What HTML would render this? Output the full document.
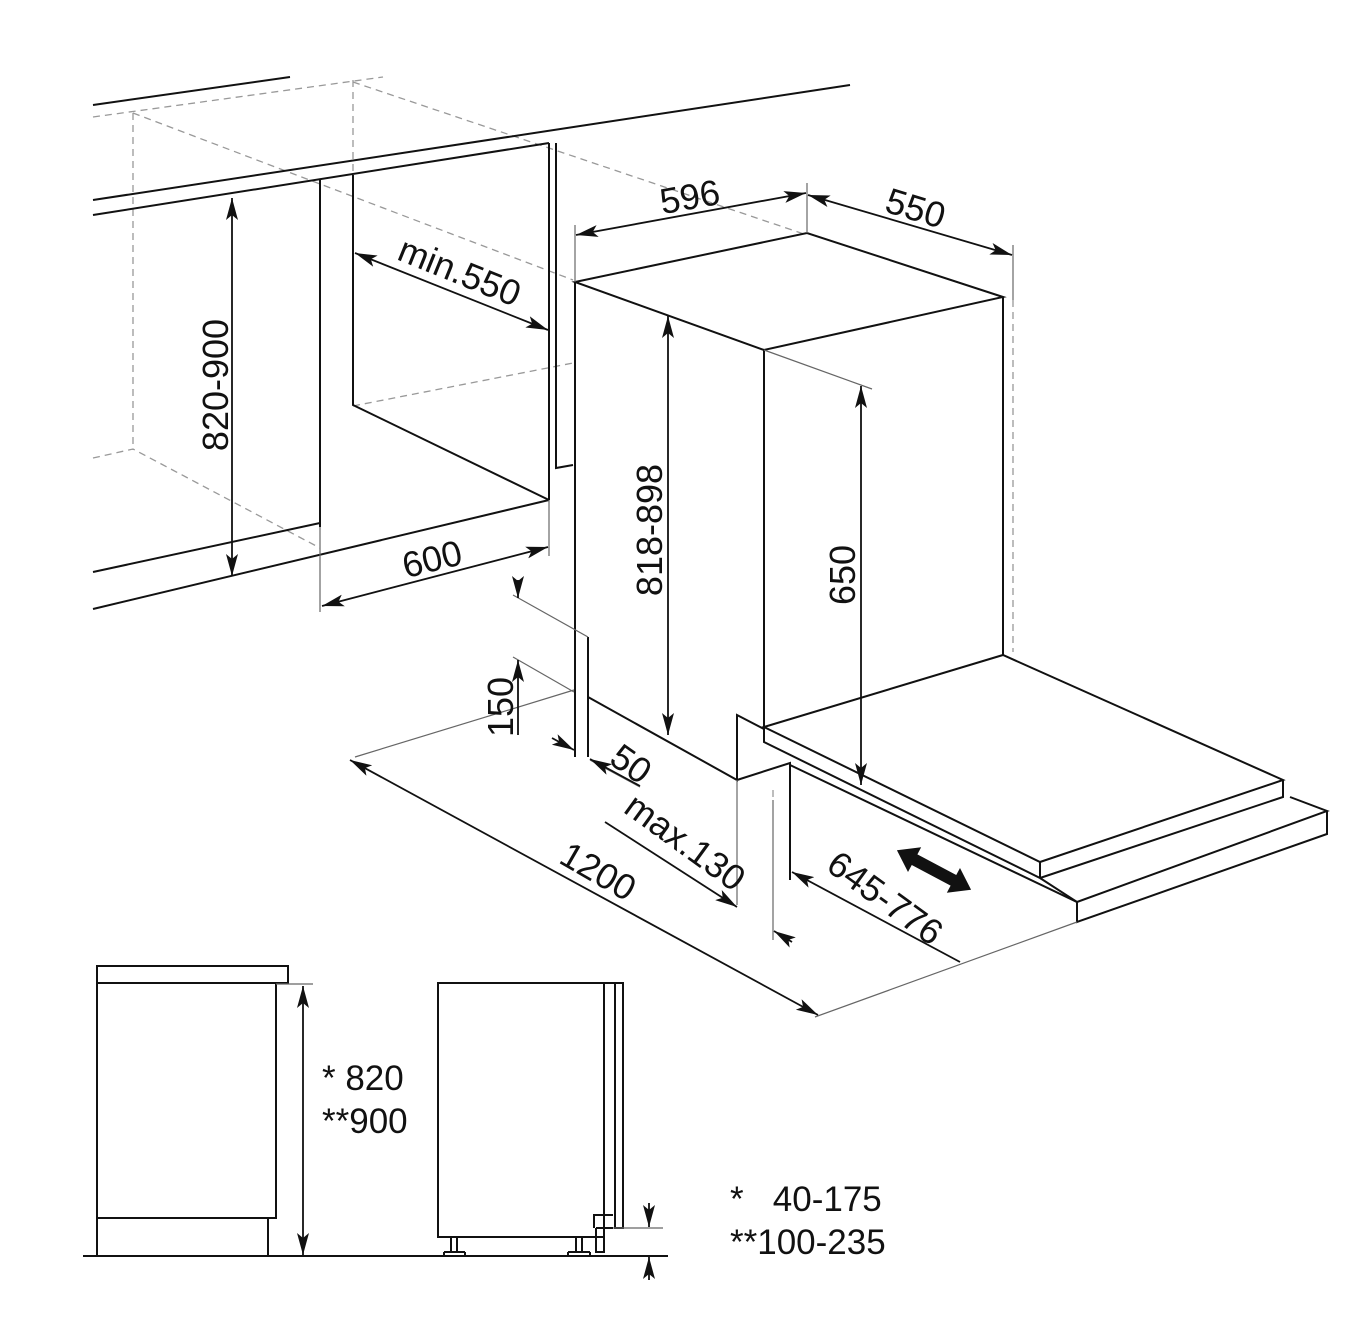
<!DOCTYPE html>
<html><head><meta charset="utf-8"><style>
html,body{margin:0;padding:0;background:#fff}
svg{display:block}
text{font-family:"Liberation Sans",Arial,sans-serif;fill:#111}
</style></head><body>
<svg width="1356" height="1342" viewBox="0 0 1356 1342" xmlns="http://www.w3.org/2000/svg">
<defs>
<marker id="a" viewBox="0 0 22 12" refX="22" refY="6" markerWidth="22" markerHeight="12" markerUnits="userSpaceOnUse" orient="auto-start-reverse"><path d="M0,0 L22,6 L0,12 L5,6 z" fill="#111"/></marker>
</defs>
<g fill="none" stroke="#999" stroke-width="1.3" stroke-dasharray="7,5">
<path d="M93,117 L383,77"/>
<path d="M133,113 L133,450"/>
<path d="M93,458 L133,449 L320,548"/>
<path d="M133,113 L573,280"/>
<path d="M353,80 L353,178"/>
<path d="M353,82 L807,235"/>
<path d="M353,406 L573,363"/>
<path d="M1013,300 L1013,652"/>
<path d="M773,790 L773,800"/>
</g>
<g fill="none" stroke="#111" stroke-width="2">
<path d="M93,105 L290,77"/>
<path d="M93,200 L850,85"/>
<path d="M93,215 L549,143"/>
<path d="M320,180 L320,527"/>
<path d="M353,175 L353,405 L549,500"/>
<path d="M549,143 L549,500"/>
<path d="M556,143 L556,468 L573,465"/>
<path d="M93,572 L320,523"/>
<path d="M93,609 L549,500"/>
<path d="M575,282 L807,233 L1003,297 L764,350 Z"/>
<path d="M575,282 L575,757"/>
<path d="M764,350 L764,727"/>
<path d="M1003,297 L1003,655"/>
<path d="M588,637 L588,757"/>
<path d="M588,697 L737,780 L737,715 L764,729"/>
<path d="M737,780 L790,763 L790,880"/>
<path d="M764,727 L1003,655 L1283,780 L1040,862 Z"/>
<path d="M764,727 L764,742 L1040,878 L1040,862"/>
<path d="M1283,780 L1283,797 L1040,878"/>
<path d="M790,765 L1077,902 L1327,811 L1290,797"/>
<path d="M1077,902 L1077,922 L1327,834 L1327,811"/>
<path d="M1040,878 L1077,902"/>
</g>
<g fill="none" stroke="#666" stroke-width="1.2">
<path d="M320,527 L320,612"/>
<path d="M549,500 L549,556"/>
<path d="M575,225 L575,282"/>
<path d="M807,183 L807,233"/>
<path d="M1013,245 L1013,300"/>
<path d="M764,350 L872,389"/>
<path d="M513,595 L588,637"/>
<path d="M513,657 L574,692"/>
<path d="M355,757 L574,690"/>
<path d="M737,780 L737,905"/>
<path d="M773,800 L773,940"/>
<path d="M1077,922 L815,1017"/>
<path d="M640,787 L590,760"/>
</g>
<g fill="none" stroke="#111" stroke-width="1.8">
<path d="M232,198 L232,576" marker-start="url(#a)" marker-end="url(#a)"/>
<path d="M355,253 L548,330" marker-start="url(#a)" marker-end="url(#a)"/>
<path d="M322,606 L548,547" marker-start="url(#a)" marker-end="url(#a)"/>
<path d="M576,235 L806,193" marker-start="url(#a)" marker-end="url(#a)"/>
<path d="M808,195 L1012,255" marker-start="url(#a)" marker-end="url(#a)"/>
<path d="M668,316 L668,735" marker-start="url(#a)" marker-end="url(#a)"/>
<path d="M861,386 L861,785" marker-start="url(#a)" marker-end="url(#a)"/>
<path d="M518,580 L518,598" marker-end="url(#a)"/>
<path d="M518,735 L518,660" marker-end="url(#a)"/>
<path d="M552,738 L574,750" marker-end="url(#a)"/>
<path d="M640,786 L590,759" marker-end="url(#a)"/>
<path d="M350,760 L818,1015" marker-start="url(#a)" marker-end="url(#a)"/>
<path d="M605,822 L737,907" marker-end="url(#a)"/>
<path d="M792,942 L774,931" marker-end="url(#a)"/>
<path d="M960,962 L792,872" marker-end="url(#a)"/>
</g>
<g transform="translate(934,870) rotate(28)">
<path d="M-42,0 L-22,-14 L-22,-6 L22,-6 L22,-14 L42,0 L22,14 L22,6 L-22,6 L-22,14 Z" fill="#111"/>
</g>
<g font-size="36">
<text transform="translate(228,385) rotate(-90)" text-anchor="middle">820-900</text>
<text transform="translate(455,283) rotate(22)" text-anchor="middle">min.550</text>
<text transform="translate(435,571) rotate(-14)" text-anchor="middle">600</text>
<text transform="translate(692,209) rotate(-10)" text-anchor="middle">596</text>
<text transform="translate(912,220) rotate(17)" text-anchor="middle">550</text>
<text transform="translate(662,530) rotate(-90)" text-anchor="middle">818-898</text>
<text transform="translate(855,575) rotate(-90)" text-anchor="middle">650</text>
<text transform="translate(513,707) rotate(-90)" text-anchor="middle">150</text>
<text transform="translate(624,774) rotate(35)" text-anchor="middle">50</text>
<text transform="translate(678,852) rotate(36)" text-anchor="middle">max.130</text>
<text transform="translate(592,882) rotate(30)" text-anchor="middle">1200</text>
<text transform="translate(878,908) rotate(36)" text-anchor="middle">645-776</text>
</g>
<g fill="none" stroke="#111" stroke-width="2">
<rect x="97" y="966" width="191" height="17"/>
<path d="M97,983 L97,1256 M276,983 L276,1218 L97,1218 M268,1218 L268,1256"/>
<path d="M83,1256 L668,1256"/>
<rect x="438" y="983" width="166" height="254"/>
<path d="M604,983 L623,983 L623,1228 L615,1228 L615,983"/>
<path d="M594,1228 L594,1215 L613,1215 M596,1228 L613,1228 M596,1228 L596,1252 L604,1252 L604,1237"/>
<path d="M451,1237 L451,1252 M457,1237 L457,1252 M444,1252 L444,1256 M465,1252 L465,1256 M444,1252 L465,1252"/>
<path d="M576,1237 L576,1252 M582,1237 L582,1252 M568,1252 L568,1256 M590,1252 L590,1256 M568,1252 L590,1252"/>
</g>
<g fill="none" stroke="#666" stroke-width="1.2">
<path d="M276,984 L313,984"/>
<path d="M613,1228 L663,1228"/>
</g>
<g fill="none" stroke="#111" stroke-width="1.8">
<path d="M303,986 L303,1255" marker-start="url(#a)" marker-end="url(#a)"/>
<path d="M649,1203 L649,1227" marker-end="url(#a)"/>
<path d="M649,1280 L649,1257" marker-end="url(#a)"/>
</g>
<g font-size="35">
<text x="322" y="1090">* 820</text>
<text x="322" y="1133">**900</text>
<text x="730" y="1211">*&#160;&#160;&#160;40-175</text>
<text x="730" y="1254">**100-235</text>
</g>
</svg>
</body></html>
